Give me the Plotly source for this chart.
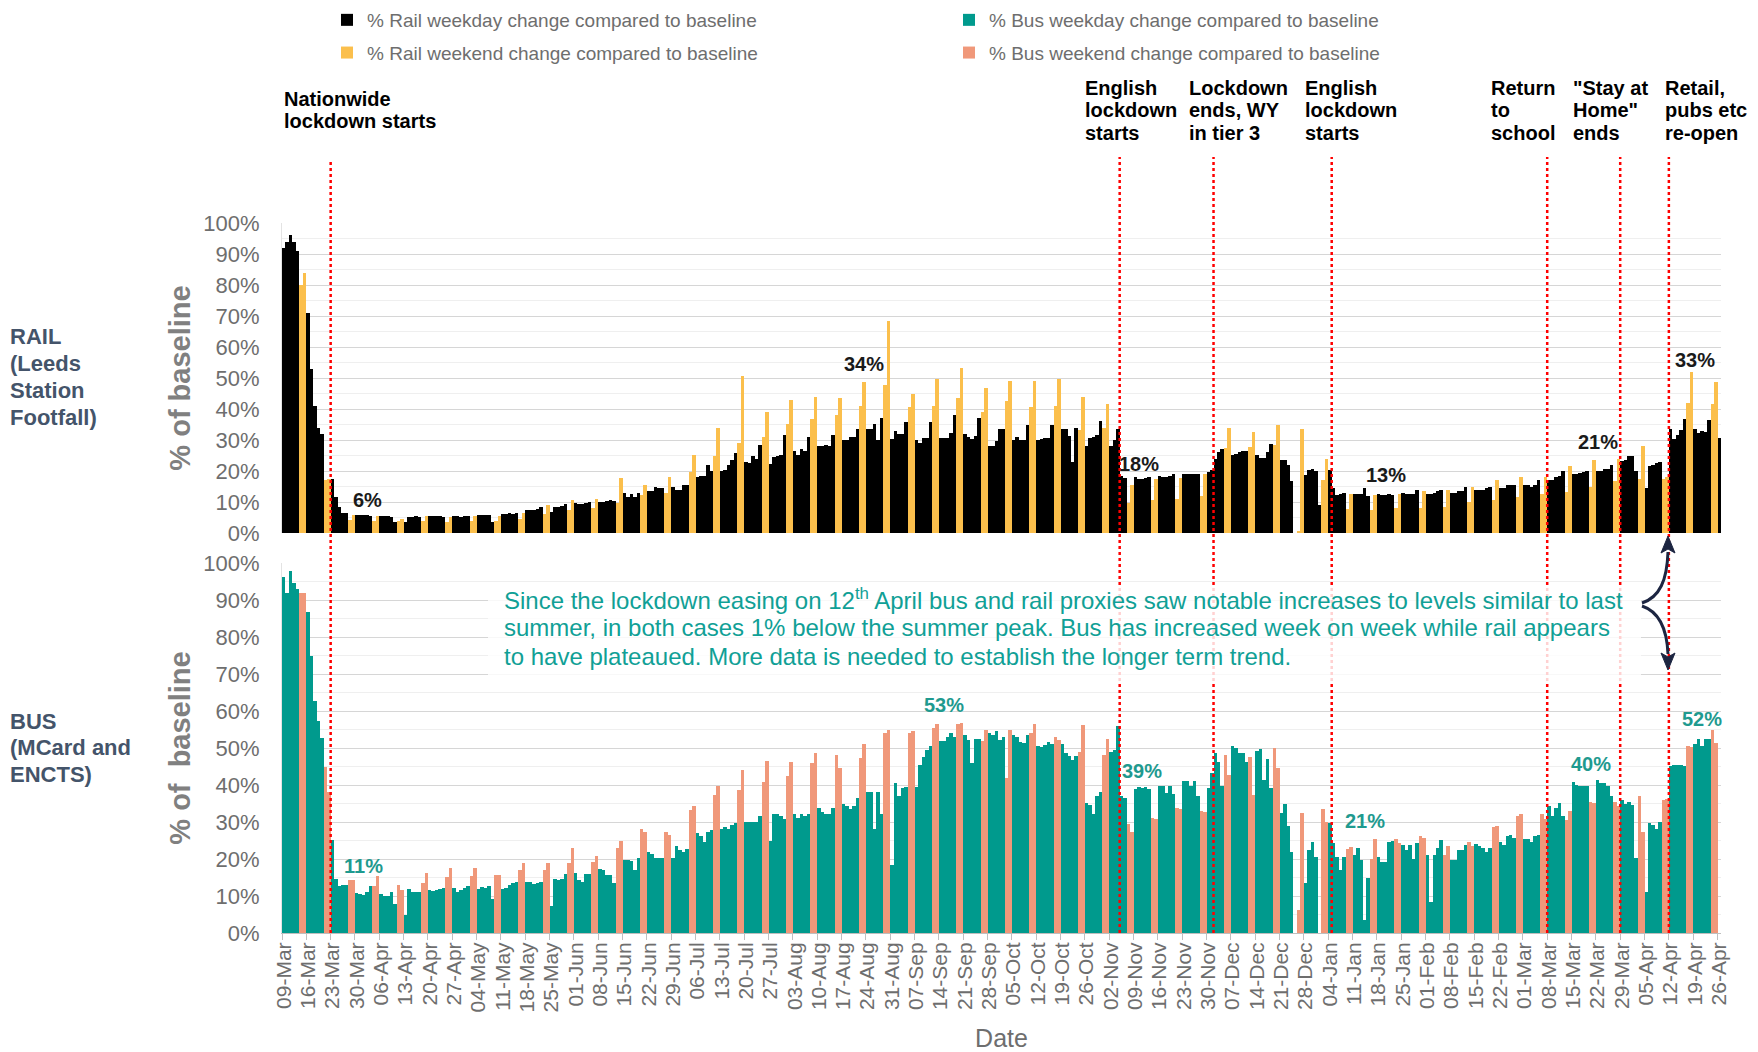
import plotly.graph_objects as go
from plotly.subplots import make_subplots
import pandas as pd

###DATA###
first_day = "2020-03-09"

# daily % of baseline, one row per week (Mon..Sun)
rail_pct = [
    92, 94, 96, 94, 91, 80, 84,                  # 09-Mar
    71, 53, 41, 34, 32, 17, 17.5,                # 16-Mar
    17.5, 11.5, 8.5, 6.5, 6.5, 4.3, 5.9,         # 23-Mar
    5.9, 5.9, 5.7, 5.9, 5.4, 3.8, 5.4,           # 30-Mar
    5.4, 5.4, 5.4, 5.2, 3.4, 3.8, 4.6,           # 06-Apr
    3.5, 5.2, 5.2, 5.4, 5.2, 3.8, 5.5,           # 13-Apr
    5.4, 5.6, 5.6, 5.4, 5.2, 3.5, 5.2,           # 20-Apr
    5.6, 5.6, 5.2, 5.6, 5.6, 3.8, 5.4,           # 27-Apr
    5.8, 5.8, 5.8, 5.8, 3.6, 4.0, 5.5,           # 04-May
    6.2, 6.2, 6.3, 6.2, 6.5, 4.5, 6.6,           # 11-May
    7.5, 7.3, 7.5, 7.8, 8.3, 6.0, 9.0,           # 18-May
    6.8, 8.5, 8.5, 8.7, 9.2, 7.5, 10.8,          # 25-May
    9.8, 9.5, 9.5, 9.6, 10.0, 8.2, 11.0,         # 01-Jun
    10.0, 10.0, 10.2, 10.5, 10.2, 9.7, 17.7,     # 08-Jun
    13.0, 11.5, 12.5, 11.5, 13.0, 12.4, 15.6,    # 15-Jun
    13.5, 13.5, 15.0, 14.5, 14.5, 13.0, 18.0,    # 22-Jun
    15.0, 14.0, 14.0, 15.5, 15.5, 19.6, 25.2,    # 29-Jun
    18.0, 18.5, 18.5, 22.0, 20.0, 25.0, 33.8,    # 06-Jul
    20.0, 20.3, 21.8, 23.7, 25.9, 29.0, 50.6,    # 13-Jul
    23.0, 22.6, 24.8, 24.0, 28.5, 31.0, 39.0,    # 20-Jul
    22.4, 24.6, 25.0, 25.3, 31.6, 35.3, 43.0,    # 27-Jul
    26.4, 25.3, 27.0, 26.4, 31.0, 36.9, 44.0,    # 03-Aug
    28.0, 28.0, 28.5, 28.0, 31.6, 38.0, 43.4,    # 10-Aug
    30.0, 30.0, 31.0, 31.0, 33.4, 41.0, 48.7,    # 17-Aug
    33.4, 33.4, 35.3, 30.0, 37.0, 47.7, 68.3,    # 24-Aug
    30.4, 32.9, 31.8, 32.0, 35.8, 40.5, 45.0,    # 31-Aug
    30.0, 29.0, 30.6, 30.6, 35.8, 41.0, 49.6,    # 07-Sep
    30.6, 30.6, 30.6, 32.3, 38.0, 43.4, 53.3,    # 14-Sep
    32.0, 31.0, 30.4, 31.3, 37.0, 39.0, 46.9,    # 21-Sep
    28.0, 28.0, 29.6, 33.4, 33.4, 42.6, 49.0,    # 28-Sep
    30.0, 31.0, 30.0, 30.0, 34.7, 40.6, 49.0,    # 05-Oct
    30.0, 30.4, 30.6, 30.6, 34.7, 41.0, 49.8,    # 12-Oct
    33.4, 33.4, 31.3, 23.0, 33.8, 33.2, 44.0,    # 19-Oct
    28.0, 30.5, 31.0, 31.5, 36.0, 34.0, 41.7,    # 26-Oct
    28.2, 30.0, 33.4, 18.3, 17.8, 9.7, 15.6,     # 02-Nov
    18.0, 17.5, 17.5, 17.7, 18.0, 10.5, 17.5,    # 09-Nov
    18.5, 18.0, 18.0, 18.5, 19.0, 11.0, 17.7,    # 16-Nov
    19.0, 19.0, 19.0, 19.0, 19.0, 12.0, 19.0,    # 23-Nov
    19.6, 20.3, 24.0, 26.0, 27.0, 27.5, 34.0,    # 30-Nov
    25.1, 25.4, 26.2, 26.5, 26.5, 27.8, 32.6,    # 07-Dec
    25.1, 24.2, 24.2, 26.1, 28.8, 28.5, 34.8,    # 14-Dec
    23.7, 23.5, 21.9, 16.7, 0.0, 0.8, 33.7,      # 21-Dec
    18.6, 20.4, 20.7, 20.0, 8.9, 17.0, 24.0,     # 28-Dec
    20.2, 14.6, 12.1, 12.7, 12.8, 7.8, 12.7,     # 04-Jan
    12.7, 12.7, 12.7, 14.6, 12.0, 7.4, 12.4,     # 11-Jan
    12.6, 12.4, 12.4, 12.7, 12.4, 8.2, 12.7,     # 18-Jan
    12.8, 12.7, 12.6, 12.7, 14.0, 8.2, 13.5,     # 25-Jan
    12.5, 12.5, 13.0, 13.5, 14.0, 8.5, 14.0,     # 01-Feb
    13.0, 13.0, 13.5, 13.5, 15.0, 10.0, 15.0,    # 08-Feb
    14.0, 14.0, 14.0, 14.5, 15.0, 10.5, 17.0,    # 15-Feb
    14.5, 14.5, 15.5, 15.5, 15.5, 11.5, 18.0,    # 22-Feb
    15.5, 15.5, 15.0, 15.5, 17.0, 12.5, 18.0,    # 01-Mar
    17.0, 17.0, 18.0, 18.5, 20.0, 13.3, 21.5,    # 08-Mar
    19.0, 19.0, 19.3, 19.6, 20.0, 15.0, 23.5,    # 15-Mar
    20.0, 20.0, 20.5, 20.5, 21.9, 16.7, 23.9,    # 22-Mar
    23.2, 23.7, 24.8, 24.8, 20.0, 17.5, 28.0,    # 29-Mar
    14.5, 21.5, 22.0, 22.5, 23.0, 17.5, 18.0,    # 05-Apr
    33.6, 30.2, 31.6, 33.2, 36.9, 42.0, 52.0,    # 12-Apr
    33.4, 32.3, 32.9, 32.6, 36.4, 41.5, 48.7,    # 19-Apr
    30.6,                                        # 26-Apr
]

bus_pct = [
    96.2, 91.9, 97.8, 94.6, 93.0, 91.9, 91.9,    # 09-Mar
    86.8, 75.0, 62.7, 57.4, 52.6, 45.0, 38.2,    # 16-Mar
    25.2, 14.7, 12.8, 13.0, 13.0, 14.2, 14.2,    # 23-Mar
    10.8, 10.6, 10.3, 11.0, 12.6, 12.6, 15.3,    # 30-Mar
    10.6, 9.9, 9.9, 11.0, 7.8, 13.0, 11.5,       # 06-Apr
    4.9, 11.9, 11.0, 11.0, 11.0, 13.5, 16.2,     # 13-Apr
    11.5, 11.3, 11.5, 11.9, 12.1, 15.1, 17.7,    # 20-Apr
    12.1, 11.0, 11.5, 12.1, 12.6, 15.5, 17.7,    # 27-Apr
    12.0, 12.4, 12.2, 12.6, 9.2, 15.7, 15.7,     # 04-May
    12.0, 12.1, 13.0, 13.5, 13.9, 17.1, 18.9,    # 11-May
    13.9, 13.9, 13.3, 13.5, 13.9, 17.1, 18.9,    # 18-May
    7.4, 14.6, 14.2, 14.6, 16.0, 18.9, 22.9,     # 25-May
    16.2, 14.2, 13.9, 16.0, 16.0, 19.3, 20.7,    # 01-Jun
    17.3, 16.9, 15.7, 15.7, 13.5, 22.9, 24.9,    # 08-Jun
    19.8, 19.6, 19.5, 17.1, 20.2, 28.1, 27.4,    # 15-Jun
    21.8, 21.4, 20.2, 20.2, 20.2, 27.4, 26.5,    # 22-Jun
    20.2, 23.4, 22.5, 22.0, 22.7, 33.3, 34.2,    # 29-Jun
    27.0, 26.3, 24.7, 27.4, 27.9, 37.3, 39.7,    # 06-Jul
    28.1, 28.6, 28.0, 29.2, 29.7, 38.7, 44.1,    # 13-Jul
    30.1, 30.1, 29.9, 30.1, 31.5, 40.9, 46.6,    # 20-Jul
    25.0, 32.2, 32.2, 31.7, 30.8, 42.4, 46.3,    # 27-Jul
    32.2, 31.0, 32.2, 31.5, 32.2, 45.9, 48.6,    # 03-Aug
    33.7, 32.8, 32.2, 32.2, 33.7, 48.1, 44.5,    # 10-Aug
    34.9, 34.2, 33.5, 34.4, 36.4, 47.2, 51.1,    # 17-Aug
    38.2, 38.2, 28.0, 38.2, 32.2, 54.1, 54.9,    # 24-Aug
    18.4, 40.6, 37.0, 39.1, 39.4, 54.1, 54.7,    # 31-Aug
    39.4, 45.4, 47.5, 49.5, 50.5, 55.3, 56.5,    # 07-Sep
    52.0, 52.0, 53.0, 54.0, 53.0, 56.6, 56.8,    # 14-Sep
    53.5, 52.2, 46.0, 52.3, 52.3, 52.0, 55.0,    # 21-Sep
    54.0, 53.5, 54.5, 52.2, 53.0, 41.8, 55.0,    # 28-Sep
    53.5, 53.0, 51.7, 51.3, 53.5, 54.0, 56.5,    # 05-Oct
    50.5, 50.2, 50.8, 51.7, 51.0, 52.9, 52.2,    # 12-Oct
    51.0, 48.6, 47.8, 46.8, 47.8, 49.0, 56.2,    # 19-Oct
    35.1, 34.6, 32.2, 36.9, 38.2, 48.1, 52.3,    # 26-Oct
    49.0, 49.5, 56.0, 37.0, 36.5, 29.5, 27.4,    # 02-Nov
    38.8, 39.4, 39.2, 39.4, 38.8, 31.0, 30.8,    # 09-Nov
    39.6, 39.7, 37.8, 39.7, 37.6, 33.9, 33.5,    # 16-Nov
    41.2, 41.2, 39.7, 41.2, 37.0, 33.1, 32.8,    # 23-Nov
    39.1, 43.2, 48.6, 46.3, 39.7, 48.1, 42.7,    # 30-Nov
    50.5, 49.9, 48.7, 48.7, 46.3, 47.5, 37.3,    # 07-Dec
    49.3, 49.6, 41.4, 46.9, 39.1, 49.9, 44.5,    # 14-Dec
    32.3, 35.0, 28.9, 21.8, 0.0, 6.2, 32.3,      # 21-Dec
    13.4, 22.4, 24.7, 20.6, 0.0, 33.4, 30.1,     # 28-Dec
    29.8, 24.2, 20.6, 17.0, 20.6, 22.6, 23.2,    # 04-Jan
    21.1, 23.0, 19.7, 3.5, 15.0, 19.9, 25.3,     # 11-Jan
    20.6, 19.3, 19.1, 24.6, 25.0, 25.3, 24.3,    # 18-Jan
    23.7, 22.3, 23.7, 19.9, 24.3, 26.3, 25.6,    # 25-Jan
    21.1, 8.3, 21.1, 22.9, 25.2, 21.1, 23.4,     # 01-Feb
    19.8, 19.8, 22.3, 22.3, 23.8, 24.7, 23.6,    # 08-Feb
    24.1, 23.6, 22.9, 22.0, 22.9, 28.6, 29.0,    # 15-Feb
    24.7, 23.8, 26.1, 26.5, 25.6, 31.7, 32.2,    # 22-Feb
    25.4, 25.4, 24.7, 26.1, 26.5, 32.2, 30.8,    # 01-Mar
    34.2, 31.5, 33.7, 35.1, 31.7, 30.6, 33.0,    # 08-Mar
    40.9, 40.0, 39.7, 39.7, 39.7, 35.5, 35.1,    # 15-Mar
    41.4, 40.5, 40.5, 39.7, 36.9, 35.3, 34.2,    # 22-Mar
    36.0, 34.9, 35.5, 34.6, 20.2, 37.0, 27.4,    # 29-Mar
    11.0, 29.7, 29.2, 28.0, 29.9, 36.0, 36.2,    # 05-Apr
    45.1, 45.4, 45.4, 45.4, 45.1, 50.5, 50.4,    # 12-Apr
    51.0, 52.3, 50.5, 52.3, 52.3, 55.0, 51.4,    # 19-Apr
    None,                                        # 26-Apr
]

event_dates = ["2020-03-23", "2020-11-05", "2020-12-02", "2021-01-05",
               "2021-03-08", "2021-03-29", "2021-04-12"]
event_labels = [["Nationwide", "lockdown starts"], ["English", "lockdown", "starts"],
                ["Lockdown", "ends, WY", "in tier 3"], ["English", "lockdown", "starts"],
                ["Return", "to", "school"], ["\"Stay at", "Home\"", "ends"],
                ["Retail,", "pubs etc", "re-open"]]

rail_callout_dates = ["2020-04-02", "2020-08-23", "2020-11-10", "2021-01-20", "2021-03-22", "2021-04-19"]
rail_callouts = ["6%", "34%", "18%", "13%", "21%", "33%"]
bus_callout_dates = ["2020-04-01", "2020-09-15", "2020-11-11", "2021-01-14", "2021-03-20", "2021-04-21"]
bus_callouts = ["11%", "53%", "39%", "21%", "40%", "52%"]

note_lines = [
    "Since the lockdown easing on 12<sup>th</sup> April bus and rail proxies saw notable increases to levels similar to last",
    "summer, in both cases 1% below the summer peak. Bus has increased week on week while rail appears",
    "to have plateaued. More data is needed to establish the longer term trend.",
]

###STYLE / LAYOUT HELPERS###
FONT = "Arial, Liberation Sans, sans-serif"
GREY = "#6e6e6e"
TEAL = "#009a8d"
FIG_W, FIG_H = 1750, 1044
L, R, T, B = 274, 37, 215, 119
W = FIG_W - L - R
H = FIG_H - T - B
DAY = 86400000


# screen pixel -> paper coords (page body adds 8px)
def fx(px):
    return (px - 8 - L) / W


def fy(py):
    return (FIG_H - B - (py - 8)) / H


days = pd.date_range(first_day, periods=len(rail_pct), freq="D")
is_weekend = days.dayofweek >= 5


def split(values, weekend):
    x = [d for d, w in zip(days, is_weekend) if w == weekend]
    y = [v for v, w in zip(values, is_weekend) if w == weekend]
    return x, y


fig = make_subplots(rows=2, cols=1, shared_xaxes=True)

series = [
    (rail_pct, False, "% Rail weekday change compared to baseline", "#000000", 1, "legend"),
    (rail_pct, True, "% Rail weekend change compared to baseline", "#fbbf4c", 1, "legend"),
    (bus_pct, False, "% Bus weekday change compared to baseline", TEAL, 2, "legend2"),
    (bus_pct, True, "% Bus weekend change compared to baseline", "#f0987a", 2, "legend2"),
]
for values, wk, name, color, row, leg in series:
    x, y = split(values, wk)
    fig.add_trace(go.Bar(
        x=x, y=y, name=name, width=DAY,
        marker=dict(color=color, line=dict(width=0)),
        legend=leg, legendgroup=name
    ), row=row, col=1)

legend_style = dict(xanchor="left", yanchor="top", traceorder="grouped", tracegroupgap=5,
                    font=dict(size=19, color=GREY), bgcolor="rgba(0,0,0,0)")
fig.update_layout(
    width=FIG_W, height=FIG_H,
    margin=dict(l=L, r=R, t=T, b=B, autoexpand=False),
    paper_bgcolor="white", plot_bgcolor="white",
    font=dict(family=FONT, color=GREY),
    barmode="overlay", bargap=0,
    legend=dict(x=fx(327), y=fy(1), **legend_style),
    legend2=dict(x=fx(949), y=fy(1), **legend_style),
)

yaxis_style = dict(
    range=[0, 100], dtick=10, ticksuffix="%", ticks="",
    tickfont=dict(size=22, color=GREY), ticklabelstandoff=17,
    showgrid=True, gridcolor="#d6d6d6", gridwidth=1,
    minor=dict(dtick=5, showgrid=True, gridcolor="#efefef"),
    zeroline=False, showline=True, linecolor="#e3e3e3", automargin=False,
)
ytitle_font = dict(size=29, color="#808080")
fig.update_layout(
    yaxis=dict(domain=[fy(533), fy(223)], **yaxis_style,
               title=dict(text="<b>% of baseline</b>", font=ytitle_font, standoff=4)),
    yaxis2=dict(domain=[fy(933), fy(563)], **yaxis_style,
                title=dict(text="<b>% of  baseline</b>", font=ytitle_font, standoff=4)),
)

fig.update_xaxes(type="date", range=["2020-03-08 12:00", "2021-04-26 12:00"],
                 showgrid=False, zeroline=False, automargin=False)
fig.update_xaxes(row=1, col=1, showticklabels=False, ticks="", showline=False)
fig.update_xaxes(row=2, col=1, tick0=first_day, dtick=7 * DAY, tickformat="%d-%b",
                 tickangle=-90, tickfont=dict(size=21, color=GREY), ticks="",
                 showline=True, linecolor="#bfbfbf",
                 minor=dict(ticks="outside", tick0="2020-03-08 12:00", dtick=7 * DAY,
                            ticklen=6, tickcolor="#bfbfbf"),
                 title=dict(text="Date", font=dict(size=25, color=GREY), standoff=21))

# red dotted event lines
for i, d in enumerate(event_dates):
    xline = pd.Timestamp(d) - pd.Timedelta(hours=12)
    fig.add_shape(type="line", xref="x2", yref="paper", x0=xline, x1=xline,
                  y0=fy(933), y1=fy(162 if i == 0 else 157),
                  line=dict(color="#ff0000", width=2.5, dash="dot"))


def add_lines(lines, px, py_first, step, font):
    for k, line in enumerate(lines):
        fig.add_annotation(xref="paper", yref="paper", x=fx(px), y=fy(py_first + k * step),
                           xanchor="left", yanchor="middle", align="left", showarrow=False,
                           text=line, font=font)


# event labels
label_px = [(282, 99), (1083, 88), (1187, 88), (1303, 88), (1489, 88), (1571, 88), (1663, 88)]
for lines, (px, py) in zip(event_labels, label_px):
    add_lines([f"<b>{t}</b>" for t in lines], px, py, 22.4, dict(size=20, color="#000000"))

# panel labels
panel_font = dict(size=22, color="#44546a")
add_lines(["<b>RAIL</b>", "<b>(Leeds</b>", "<b>Station</b>", "<b>Footfall)</b>"], 8, 336, 27, panel_font)
add_lines(["<b>BUS</b>", "<b>(MCard and</b>", "<b>ENCTS)</b>"], 8, 721, 26.5, panel_font)

# % callouts
rail_callout_y = [10.5, 54.4, 22.1, 18.6, 29.3, 55.7]
for d, t, yv in zip(rail_callout_dates, rail_callouts, rail_callout_y):
    fig.add_annotation(xref="x", yref="y", x=d, y=yv, text=f"<b>{t}</b>", showarrow=False,
                       font=dict(size=20, color="#1a1a1a"))
bus_callout_y = [18.1, 61.6, 43.8, 30.3, 45.7, 57.8]
for d, t, yv in zip(bus_callout_dates, bus_callouts, bus_callout_y):
    fig.add_annotation(xref="x2", yref="y2", x=d, y=yv, text=f"<b>{t}</b>", showarrow=False,
                       font=dict(size=20, color="#1f9a8f"))

# commentary box (semi-opaque so the event lines show through faintly)
fig.add_shape(type="rect", xref="paper", yref="paper", x0=fx(488), x1=fx(1641),
              y0=fy(684), y1=fy(587), fillcolor="rgba(255,255,255,0.82)", line=dict(width=0))
add_lines(note_lines, 502, 599, 28.5, dict(size=24, color="#10a096"))


# curved arrows from the box to the 12-Apr line
def path_px(points):
    (x0, y0), (x1, y1), (x2, y2), (x3, y3) = points
    return f"M {fx(x0)},{fy(y0)} C {fx(x1)},{fy(y1)} {fx(x2)},{fy(y2)} {fx(x3)},{fy(y3)}"


def head_px(points):
    return "M " + " L ".join(f"{fx(a)},{fy(b)}" for a, b in points) + " Z"


ARROW = "#1c2541"
fig.add_shape(type="path", xref="paper", yref="paper",
              path=path_px([(1642, 603), (1660, 597), (1667, 580), (1668, 552)]),
              line=dict(color=ARROW, width=3))
fig.add_shape(type="path", xref="paper", yref="paper",
              path=path_px([(1642, 606), (1660, 612), (1667, 630), (1668, 654)]),
              line=dict(color=ARROW, width=3))
fig.add_shape(type="path", xref="paper", yref="paper",
              path=head_px([(1668, 536), (1661, 553), (1668, 549), (1675, 553)]),
              fillcolor=ARROW, line=dict(color=ARROW, width=1))
fig.add_shape(type="path", xref="paper", yref="paper",
              path=head_px([(1668, 670), (1661, 653), (1668, 657), (1675, 653)]),
              fillcolor=ARROW, line=dict(color=ARROW, width=1))

fig.write_html("out.html")
